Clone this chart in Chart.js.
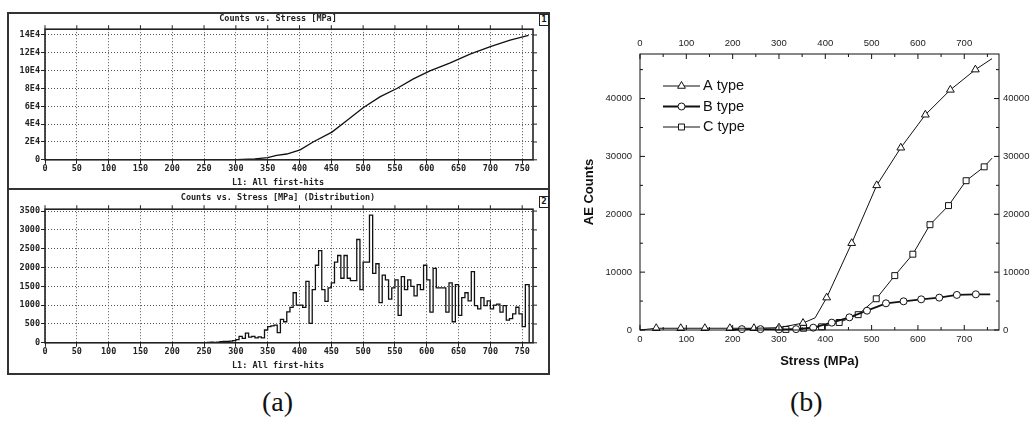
<!DOCTYPE html>
<html>
<head>
<meta charset="utf-8">
<script src="https://cdn.jsdelivr.net/npm/chart.js@4.4.1/dist/chart.umd.min.js"></script>
<style>
  body { margin: 0; background: #fff; width: 1034px; height: 424px; position: relative; overflow: hidden; }
  .pane { position: absolute; }
  .frame { position: absolute; border: 2px solid #333; box-sizing: border-box; pointer-events: none; }
  .bar { position: absolute; background: #333; }
  .num { position: absolute; border: 1.5px solid #222; box-sizing: border-box; font: bold 9px 'DejaVu Sans Mono', monospace; color: #111; text-align: center; line-height: 9px; background: #fff; }
  .cap { position: absolute; font: 28px 'Liberation Serif', serif; color: #111; }
</style>
</head>
<body>
<div class="pane" style="left:8px;top:13px;width:540px;height:176px"><canvas id="cum"></canvas></div>
<div class="pane" style="left:8px;top:189px;width:540px;height:184px"><canvas id="dist"></canvas></div>
<div class="frame" style="left:7px;top:12px;width:543px;height:363px"></div>
<div class="bar" style="left:7px;top:188px;width:543px;height:2px"></div>
<div class="num" style="left:539px;top:14px;width:10px;height:12px">1</div>
<div class="num" style="left:539px;top:196px;width:10px;height:12px">2</div>
<div class="pane" style="left:570px;top:25px;width:464px;height:350px"><canvas id="types"></canvas></div>
<div class="cap" style="left:262px;top:386px">(a)</div>
<div class="cap" style="left:790px;top:386px">(b)</div>
<script>
// ---- (a) top: cumulative counts vs stress ----
const cumStress = [35, 300, 330, 350, 364, 380, 401, 422, 451, 474, 500, 527, 553, 579, 605, 637, 668, 700, 731, 760];
const cumCounts = [0, 300, 1000, 2500, 4900, 6500, 11200, 20300, 31100, 43700, 58300, 70900, 80000, 90800, 99800, 108800, 118600, 127000, 134200, 139600];
const stressTicksA = [0, 50, 100, 150, 200, 250, 300, 350, 400, 450, 500, 550, 600, 650, 700, 750];
const cumTicks = [0, 20000, 40000, 60000, 80000, 100000, 120000, 140000];
const cumTickLabels = ['0', '2E4', '4E4', '6E4', '8E4', '10E4', '12E4', '14E4'];

// ---- (a) bottom: distribution (bin start, counts) ----
const distStress = [250, 255, 260, 265, 270, 275, 280, 285, 290, 295,
  300, 305, 310, 315, 320, 325, 330, 335, 340, 345,
  350, 355, 360, 365, 370, 375, 380, 385, 390, 395,
  400, 405, 410, 415, 420, 425, 430, 435, 440, 445,
  450, 455, 460, 465, 470, 475, 480, 485, 490, 495,
  500, 505, 510, 515, 520, 525, 530, 535, 540, 545,
  550, 555, 560, 565, 570, 575, 580, 585, 590, 595,
  600, 605, 610, 615, 620, 625, 630, 635, 640, 645,
  650, 655, 660, 665, 670, 675, 680, 685, 690, 695,
  700, 705, 710, 715, 720, 725, 730, 735, 740, 745,
  750, 755, 761];
const distCounts = [0, 10, 15, 10, 20, 30, 35, 40, 45, 60,
  85, 170, 120, 257, 150, 170, 130, 160, 130, 340,
  430, 450, 470, 270, 620, 560, 820, 940, 1330, 1000,
  1000, 940, 1630, 515, 1415, 2060, 2450, 1415, 1100, 1460,
  1590, 2145, 2320, 1715, 2320, 1715, 1650, 1650, 2745, 1415,
  2145, 2145, 3390, 1845, 2100, 1070, 1800, 1670, 1160, 1460,
  1670, 730, 1760, 1415, 1670, 1500, 1245, 1545, 1415, 2060,
  1670, 815, 1975, 1460, 1460, 1460, 815, 1590, 560, 1545,
  730, 1200, 1330, 1115, 1890, 990, 900, 1200, 990, 1115,
  900, 1000, 1030, 815, 990, 600, 645, 770, 945, 770,
  430, 1545, 0];
const distTicks = [0, 500, 1000, 1500, 2000, 2500, 3000, 3500];

// ---- (b) AE counts by type ----
const aStress = [0, 35, 88, 140, 194, 246, 300, 352, 378, 403, 457, 511, 563, 616, 670, 724, 760];
const aCounts = [0, 300, 300, 300, 300, 300, 400, 1200, 2100, 5600, 15000, 25000, 31500, 37200, 41500, 45000, 46900];
const aPlain = [0, 8, 16];
const bStress = [200, 220, 260, 300, 337, 374, 414, 452, 490, 531, 569, 607, 646, 684, 725, 756];
const bCounts = [0, 150, 150, 100, 150, 400, 1270, 2190, 3340, 4610, 4960, 5300, 5590, 6060, 6170, 6170];
const bPlain = [0, 15];
const cStress = [300, 315, 353, 392, 430, 471, 510, 550, 589, 626, 666, 704, 743, 760];
const cCounts = [0, 100, 300, 550, 1300, 2650, 5400, 9400, 13100, 18200, 21500, 25800, 28200, 29700];
const cPlain = [0, 13];
const typeNames = ['A type', 'B type', 'C type'];
const bStressTicks = [0, 100, 200, 300, 400, 500, 600, 700];
const bStressMinor = [50, 150, 250, 350, 450, 550, 650, 750];
const bCountTicks = [0, 10000, 20000, 30000, 40000];
const bCountMinor = [5000, 15000, 25000, 35000, 45000];

const pts = (xs, ys) => xs.map((x, i) => ({ x: x, y: ys[i] }));
const mono = { family: "'DejaVu Sans Mono', monospace", size: 8.5, weight: 'bold' };

// solid plot frame plus outside ticks on top/right edges (panel a)
const frameA = {
  id: 'frameA',
  afterDraw(chart) {
    const { ctx, chartArea: a, scales } = chart;
    ctx.save();
    ctx.strokeStyle = '#222';
    ctx.lineWidth = 1.6;
    ctx.strokeRect(a.left, a.top, a.right - a.left, a.bottom - a.top);
    ctx.lineWidth = 1;
    ctx.beginPath();
    scales.x.ticks.forEach(t => {
      const x = scales.x.getPixelForValue(t.value);
      ctx.moveTo(x, a.top); ctx.lineTo(x, a.top - 4);
    });
    scales.y.ticks.forEach(t => {
      const y = scales.y.getPixelForValue(t.value);
      ctx.moveTo(a.right, y); ctx.lineTo(a.right + 4, y);
    });
    ctx.stroke();
    ctx.restore();
  }
};

function panelA(id, data, yTicks, yMax, yLabel, title, stepped, titlePad, subPad) {
  return new Chart(document.getElementById(id), {
    type: 'line',
    data: { datasets: [{ data: data, borderColor: '#111', borderWidth: 1.3, pointRadius: 0, stepped: stepped }] },
    options: {
      responsive: true, maintainAspectRatio: false, animation: false,
      layout: { padding: 0 },
      plugins: {
        legend: { display: false }, tooltip: { enabled: false },
        title: { display: true, text: title, font: mono, color: '#222', padding: titlePad },
        subtitle: { display: true, position: 'bottom', text: 'L1: All first-hits', font: mono, color: '#222', padding: subPad }
      },
      scales: {
        x: {
          type: 'linear', min: 0, max: 767,
          afterBuildTicks: s => { s.ticks = stressTicksA.map(v => ({ value: v })); },
          afterFit: s => { s.height = 18; },
          grid: { color: '#555', tickLength: 4, tickColor: '#222', tickBorderDash: [] },
          border: { display: false, dash: [1, 2] },
          ticks: { font: mono, color: '#222', padding: 0, maxRotation: 0, autoSkip: false }
        },
        y: {
          type: 'linear', min: 0, max: yMax,
          afterBuildTicks: s => { s.ticks = yTicks.map(v => ({ value: v })); },
          afterFit: s => { s.width = 37; },
          grid: { color: '#555', tickLength: 4, tickColor: '#222', tickBorderDash: [] },
          border: { display: false, dash: [1, 2] },
          ticks: { font: mono, color: '#222', padding: 1, callback: yLabel }
        },
        // empty right strip so titles stay centred on the whole panel
        yR: {
          type: 'linear', position: 'right', display: true,
          afterFit: s => { s.width = 15; },
          grid: { display: false, drawTicks: false }, border: { display: false },
          ticks: { display: false }
        }
      }
    },
    plugins: [frameA]
  });
}

panelA('cum', pts(cumStress, cumCounts), cumTicks, 146500,
  v => cumTickLabels[cumTicks.indexOf(v)], 'Counts vs. Stress [MPa]', false,
  { top: 1, bottom: 5 }, { top: 0, bottom: 1 });
panelA('dist', pts(distStress, distCounts), distTicks, 3550,
  v => String(v), 'Counts vs. Stress [MPa] (Distribution)', 'before',
  { top: 4, bottom: 6 }, { top: 0, bottom: 2 });

// panel b: thin frame with inward major/minor ticks
const frameB = {
  id: 'frameB',
  afterDraw(chart) {
    const { ctx, chartArea: a, scales } = chart;
    ctx.save();
    ctx.strokeStyle = '#111';
    ctx.lineWidth = 1;
    ctx.strokeRect(a.left, a.top, a.right - a.left, a.bottom - a.top);
    ctx.beginPath();
    const xm = (vals, len) => vals.forEach(v => {
      const x = scales.x.getPixelForValue(v);
      ctx.moveTo(x, a.bottom); ctx.lineTo(x, a.bottom - len);
      ctx.moveTo(x, a.top); ctx.lineTo(x, a.top + len);
    });
    const ym = (vals, len) => vals.forEach(v => {
      const y = scales.y.getPixelForValue(v);
      ctx.moveTo(a.left, y); ctx.lineTo(a.left + len, y);
      ctx.moveTo(a.right, y); ctx.lineTo(a.right - len, y);
    });
    xm(bStressTicks, 5); xm(bStressMinor, 3);
    ym(bCountTicks, 5); ym(bCountMinor, 3);
    ctx.stroke();
    ctx.restore();
  }
};

// legend drawn as line + marker + label inside the plot
const lineLegend = {
  id: 'lineLegend',
  afterDraw(chart, args, o) {
    const { ctx, chartArea: a } = chart;
    ctx.save();
    chart.data.datasets.forEach((ds, i) => {
      const y = a.top + o.top + i * o.gap;
      const x0 = a.left + o.left;
      ctx.strokeStyle = '#111';
      ctx.lineWidth = ds.borderWidth;
      ctx.beginPath(); ctx.moveTo(x0, y); ctx.lineTo(x0 + o.len, y); ctx.stroke();
      ctx.lineWidth = 1;
      ctx.fillStyle = '#fff';
      Chart.helpers.drawPoint(ctx, { pointStyle: ds.pointStyle, radius: ds.markRadius, borderWidth: 1, rotation: 0 }, x0 + o.len / 2, y);
      ctx.fillStyle = '#111';
      ctx.font = o.font;
      ctx.textBaseline = 'middle';
      ctx.fillText(ds.label, x0 + o.len + 3, y);
    });
    ctx.restore();
  }
};

function typeSet(label, xs, ys, plain, style, r, w) {
  return {
    label: label, data: pts(xs, ys), borderColor: '#111', borderWidth: w,
    pointStyle: style, markRadius: r,
    pointRadius: c => plain.includes(c.dataIndex) ? 0 : r,
    pointBackgroundColor: '#fff', pointBorderColor: '#111', pointBorderWidth: 1,
    clip: false
  };
}

const sans = { family: "'Liberation Sans', Arial, sans-serif", size: 9.5 };
const axisTitle = { family: "'Liberation Sans', Arial, sans-serif", size: 13, weight: 'bold' };
const noGrid = { display: false, drawTicks: false };

new Chart(document.getElementById('types'), {
  type: 'line',
  data: {
    datasets: [
      typeSet(typeNames[0], aStress, aCounts, aPlain, 'triangle', 4.5, 1),
      typeSet(typeNames[1], bStress, bCounts, bPlain, 'circle', 3.5, 1.8),
      typeSet(typeNames[2], cStress, cCounts, cPlain, 'rect', 4.2, 1)
    ]
  },
  options: {
    responsive: true, maintainAspectRatio: false, animation: false,
    layout: { padding: 0 },
    plugins: {
      legend: { display: false }, tooltip: { enabled: false },
      lineLegend: { left: 23, top: 32, gap: 20.5, len: 37, font: "14.5px 'Liberation Sans', Arial, sans-serif" }
    },
    scales: {
      x: {
        type: 'linear', position: 'bottom', min: 0, max: 775,
        afterBuildTicks: s => { s.ticks = bStressTicks.map(v => ({ value: v })); },
        afterFit: s => { s.height = 45; },
        grid: noGrid, border: { display: false },
        ticks: { font: sans, color: '#222', padding: 4, maxRotation: 0 },
        title: { display: true, text: 'Stress (MPa)', font: axisTitle, color: '#111', padding: { top: 0, bottom: 6 } }
      },
      x2: {
        type: 'linear', position: 'top', min: 0, max: 775,
        afterBuildTicks: s => { s.ticks = bStressTicks.map(v => ({ value: v })); },
        afterFit: s => { s.height = 29; },
        grid: noGrid, border: { display: false },
        ticks: { font: sans, color: '#222', padding: 5, maxRotation: 0 }
      },
      y: {
        type: 'linear', position: 'left', min: 0, max: 47700,
        afterBuildTicks: s => { s.ticks = bCountTicks.map(v => ({ value: v })); },
        afterFit: s => { s.width = 70; },
        grid: noGrid, border: { display: false },
        ticks: { font: sans, color: '#222', padding: 8, callback: v => String(v) },
        title: { display: true, text: 'AE Counts', font: axisTitle, color: '#111', padding: { top: 12, bottom: 0 } }
      },
      y2: {
        type: 'linear', position: 'right', min: 0, max: 47700,
        afterBuildTicks: s => { s.ticks = bCountTicks.map(v => ({ value: v })); },
        afterFit: s => { s.width = 35; },
        grid: noGrid, border: { display: false },
        ticks: { font: sans, color: '#222', padding: 4, callback: v => String(v) }
      }
    }
  },
  plugins: [frameB, lineLegend]
});
</script>
</body>
</html>
